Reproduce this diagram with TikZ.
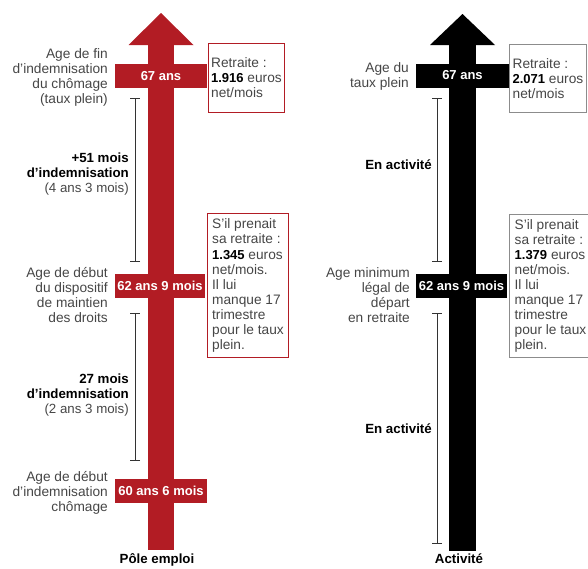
\documentclass[tikz,border=0pt]{standalone}
\usepackage{fontspec}
\setmainfont{Liberation Sans}
\usetikzlibrary{arrows.meta}
\definecolor{rouge}{RGB}{178,28,36}
\definecolor{gristexte}{RGB}{70,70,70}
\definecolor{griscadre}{RGB}{140,140,140}
\newcommand{\chiffre}[1]{\textcolor{black}{\fontsize{13}{15}\selectfont\textbf{#1}}}

\begin{document}
\begin{tikzpicture}[x=1pt,y=-1pt,
	bande/.style={fill=#1,text=white,font=\fontsize{13}{15}\selectfont\bfseries,minimum height=24pt,inner sep=0pt},
	cadre/.style={draw=#1,line width=0.9pt,fill=white,align=left,anchor=north west,inner sep=0pt,font=\fontsize{13.7}{15}\selectfont,text=gristexte},
	etiquette/.style={align=right,anchor=east,inner sep=0pt,font=\fontsize{13.7}{15}\selectfont,text=gristexte},
	duree/.style={align=right,anchor=east,inner sep=0pt,font=\fontsize{13.3}{15}\selectfont,text=black},
	titre/.style={anchor=base,inner sep=0pt,font=\fontsize{13.3}{15}\selectfont\bfseries},
	borne/.style={draw=black!80,line width=0.9pt,{Bar[width=10pt]}-{Bar[width=10pt]}}]
	\useasboundingbox (0,0) rectangle (588,568);

	% Pole emploi
	\fill[rouge](148,45) rectangle (174,550);
	\fill[rouge](128.5,45)--(161,13)--(193.5,45)--cycle;

	\node[bande=rouge,minimum width=92pt] (r67) at (161,76) {67 ans};
	\node[cadre=rouge,minimum width=76pt,minimum height=69pt] (rretraite) at (208,43)
		{Retraite :\\\chiffre{1.916} euros\\net/mois};
	\node[etiquette] (rfin) at (108,77.5) {Age de fin\\d’indemnisation\\du chômage\\(taux plein)};

	\coordinate (rb1h) at (135,98);
	\coordinate (rb1b) at (135,262);
	\draw[borne] (rb1h)--(rb1b);
	\node[duree] (r51) at (129,174.5) {\textbf{+51 mois}\\\textbf{d’indemnisation}\\\textcolor{gristexte}{(4 ans 3 mois)}};

	\node[bande=rouge,minimum width=90pt] (r62) at (160,286) {62 ans 9 mois};
	\node[cadre=rouge,minimum width=81pt,minimum height=144pt] (rprenait) at (207,213)
		{S’il prenait\\sa retraite :\\\chiffre{1.345} euros\\net/mois.\\Il lui\\manque 17\\trimestre\\pour le taux\\plein.};
	\node[etiquette] (rdispositif) at (108,295.5) {Age de début\\du dispositif\\de maintien\\des droits};

	\coordinate (rb2h) at (135,313);
	\coordinate (rb2b) at (135,461);
	\draw[borne] (rb2h)--(rb2b);
	\node[duree] (r27) at (129,395) {\textbf{27 mois}\\\textbf{d’indemnisation}\\\textcolor{gristexte}{(2 ans 3 mois)}};

	\node[bande=rouge,minimum width=92pt] (r60) at (161,490.5) {60 ans 6 mois};
	\node[etiquette] (rdebut) at (108,492.5) {Age de début\\d’indemnisation\\chômage};

	\node[titre] (pole) at (157,563) {Pôle emploi};

	% Activite
	\fill[black](449,45) rectangle (476,551);
	\fill[black](430,45)--(462.5,14)--(495,45)--cycle;

	\node[bande=black,minimum width=93pt] (n67) at (462.5,75.5) {67 ans};
	\node[cadre=griscadre,minimum width=77pt,minimum height=68pt] (nretraite) at (509,44)
		{Retraite :\\\chiffre{2.071} euros\\net/mois};
	\node[etiquette] (nplein) at (409,76.5) {Age du\\taux plein};

	\coordinate (nb1h) at (437,98);
	\coordinate (nb1b) at (437,262);
	\draw[borne] (nb1h)--(nb1b);
	\node[duree] (nact1) at (432,164.5) {\textbf{En activité}};

	\node[bande=black,minimum width=91pt] (n62) at (461.5,286) {62 ans 9 mois};
	\node[cadre=griscadre,minimum width=82pt,minimum height=143pt] (nprenait) at (509,214)
		{S’il prenait\\sa retraite :\\\chiffre{1.379} euros\\net/mois.\\Il lui\\manque 17\\trimestre\\pour le taux\\plein.};
	\node[etiquette] (nlegal) at (410,295.5) {Age minimum\hspace{5pt}\\légal de\\départ\\en retraite};

	\coordinate (nb2h) at (437,313);
	\coordinate (nb2b) at (437,544);
	\draw[borne] (nb2h)--(nb2b);
	\node[duree] (nact2) at (432,428.5) {\textbf{En activité}};

	\node[titre] (activite) at (459,563) {Activité};
\end{tikzpicture}
\end{document}
